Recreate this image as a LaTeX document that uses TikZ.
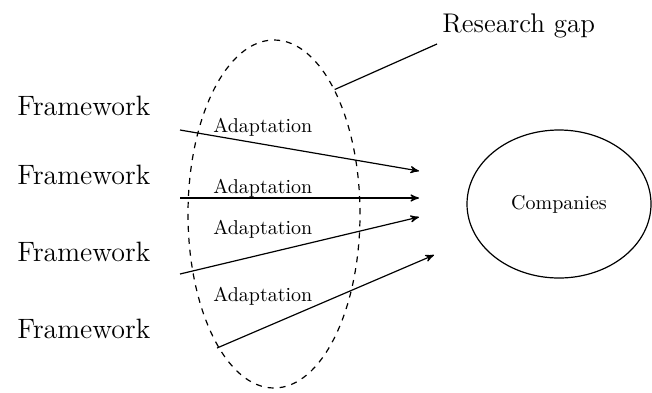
\documentclass[tikz,border=0pt]{standalone}
\usepackage{tikz}
\usetikzlibrary{arrows,shapes.geometric}
\tikzset{
    %Define standard arrow tip
    >=stealth',
    %Define style for the texts
    fwtext/.style={
           anchor=base west,
           inner sep=0pt,
           font=\fontsize{14}{16}\selectfont},
    adapt/.style={
           anchor=base west,
           inner sep=0pt,
           font=\fontsize{10}{12}\selectfont},
    %Define style for the ellipses
    gapzone/.style={
           ellipse,
           draw=black, semithick, dashed,
           minimum width=86pt,
           minimum height=174pt,
           inner sep=0pt},
    company/.style={
           ellipse,
           draw=black, semithick,
           minimum width=92pt,
           minimum height=74pt,
           font=\fontsize{10}{12}\selectfont,
           text centered},
    % Define arrow style
    pil/.style={
           ->,
           semithick}
}
\begin{document}
\begin{tikzpicture}[x=0.5pt,y=-0.5pt]
\useasboundingbox (0,0) rectangle (652,392);

 %ellipses
\node[gapzone](gap) at (274,214){};
\node[company](comp) at (559,204){Companies};
\node[anchor=base west, inner sep=0pt, font=\fontsize{13.5}{16}\selectfont](rg) at (442,32){Research gap};
\coordinate (rgend) at (437,44);
\draw[semithick] (gap.64) -- (rgend);

 %frameworks
\node[fwtext](fw1) at (17,115){Framework};
\node[fwtext](fw2) at (17,184){Framework};
\node[fwtext](fw3) at (17,261){Framework};
\node[fwtext](fw4) at (17,338){Framework};

 %adaptations
\node[adapt](ad1) at (213,132){Adaptation};
\node[adapt](ad2) at (213,193){Adaptation};
\node[adapt](ad3) at (213,234){Adaptation};
\node[adapt](ad4) at (213,301){Adaptation};

\coordinate (s1) at (180,130); \coordinate (e1) at (419,171);
\coordinate (s2) at (180,198); \coordinate (e2) at (419,198);
\coordinate (s3) at (180,274); \coordinate (e3) at (419,217);
\coordinate (s4) at (217,348); \coordinate (e4) at (434,255);
 \path[pil]
    (s1) edge (e1)
    (s2) edge (e2)
    (s3) edge (e3)
    (s4) edge (e4);
\end{tikzpicture}
\end{document}
